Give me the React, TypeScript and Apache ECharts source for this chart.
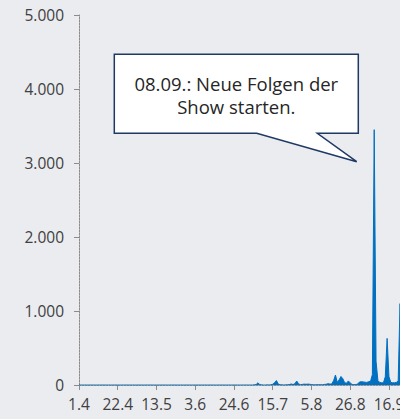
import React, { useEffect, useRef } from "react";
import * as echarts from "echarts";

// Daily values, 1 April – 30 September
const aprilValues = [0, 0, 0, 0, 0, 0, 0, 0, 0, 0, 0, 0, 0, 0, 0, 0, 0, 0, 0, 0, 0, 0, 0, 0, 0, 0, 0, 0, 0, 0];
const mayValues = [0, 0, 0, 0, 0, 0, 0, 0, 0, 0, 0, 0, 0, 0, 0, 0, 0, 0, 0, 0, 0, 0, 0, 0, 0, 0, 0, 0, 0, 0, 0];
const juneValues = [0, 0, 0, 0, 0, 0, 0, 0, 0, 0, 0, 0, 0, 0, 0, 0, 0, 0, 0, 0, 0, 0, 0, 0, 0, 0, 0, 0, 0, 0];
const julyValues = [0, 0, 0, 0, 2, 6, 30, 5, 2, 0, 0, 2, 0, 3, 10, 30, 60, 12, 3, 2, 0, 2, 4, 6, 14, 6, 18, 54, 15, 5, 8];
const augustValues = [12, 10, 12, 10, 6, 3, 2, 4, 3, 5, 3, 8, 10, 18, 12, 15, 60, 135, 35, 70, 115, 85, 30, 25, 55, 28, 8, 5, 6, 12, 40];
const septemberValues = [45, 42, 38, 35, 45, 50, 140, 3450, 320, 60, 35, 30, 30, 110, 630, 110, 35, 30, 30, 35, 60, 1100, 300, 80, 50, 40, 40, 60, 1200, 200];

const values = [...aprilValues, ...mayValues, ...juneValues, ...julyValues, ...augustValues, ...septemberValues];

const startYear = 2019;
const startMonth = 3; // April (0-based)
const categories = values.map((_, i) => {
  const d = new Date(Date.UTC(startYear, startMonth, 1 + i));
  return `${d.getUTCDate()}.${d.getUTCMonth() + 1}`;
});

const yMin = 0;
const yMax = 5000;
const yStep = 1000;

const calloutLines = ["08.09.: Neue Folgen der", "Show starten."];

const fmtThousands = (v: number) => String(v).replace(/\B(?=(\d{3})+(?!\d))/g, ".");

export default function App() {
  const ref = useRef<HTMLDivElement>(null);
  useEffect(() => {
    if (!ref.current) return;
    const chart = echarts.init(ref.current, undefined, { renderer: "svg" });
    const axisColor = "#8C8C8C";
    const labelColor = "#404040";
    const font = "'Open Sans', Lato, sans-serif";
    chart.setOption({
      animation: false,
      backgroundColor: "#EBECF0",
      grid: { left: 79, top: 15, width: 335.8, height: 370, containLabel: false },
      xAxis: {
        type: "category",
        data: categories,
        boundaryGap: false,
        axisLine: { show: true, lineStyle: { color: axisColor, width: 1, type: [2, 1] } },
        axisTick: { show: true, interval: 20, length: 5, lineStyle: { color: axisColor } },
        axisLabel: { interval: 20, color: labelColor, fontSize: 15.5, fontFamily: font, margin: 11 },
        splitLine: { show: false },
      },
      yAxis: {
        type: "value",
        min: yMin,
        max: yMax,
        interval: yStep,
        axisLine: { show: true, lineStyle: { color: axisColor, width: 1, type: [2, 1] } },
        axisTick: { show: true, length: 5, lineStyle: { color: axisColor } },
        axisLabel: { color: labelColor, fontSize: 15.5, fontFamily: font, margin: 15, formatter: (v: number) => fmtThousands(v) },
        splitLine: { show: false },
      },
      series: [
        {
          type: "line",
          data: values,
          symbol: "none",
          showSymbol: false,
          lineStyle: { color: "#0070C0", width: 1 },
          areaStyle: { color: "#0070C0", opacity: 1 },
          z: 2,
        },
      ],
      graphic: [
        {
          type: "polygon",
          z: 100,
          shape: {
            points: [
              [114.3, 54.3],
              [358.3, 54.3],
              [358.3, 133.3],
              [317.3, 133.3],
              [356.7, 161.7],
              [256.7, 133.3],
              [114.3, 133.3],
            ],
          },
          style: { fill: "#FFFFFF", stroke: "#1F3864", lineWidth: 1.5 },
        },
        {
          type: "text",
          z: 101,
          x: 236.3,
          y: 95,
          style: {
            text: calloutLines.join("\n"),
            font: `18.5px ${font}`,
            fontSize: 18.5,
            fontFamily: font,
            fill: "#262626",
            align: "center",
            textAlign: "center",
            verticalAlign: "middle",
            textVerticalAlign: "middle",
            lineHeight: 23.4,
          },
        },
      ],
    });
    return () => chart.dispose();
  }, []);
  return (
    <div style={{ position: "fixed", left: 0, top: 0, width: 400, height: 419, overflow: "hidden", background: "#EBECF0" }}>
      <div ref={ref} style={{ width: 440, height: 419 }} />
    </div>
  );
}
